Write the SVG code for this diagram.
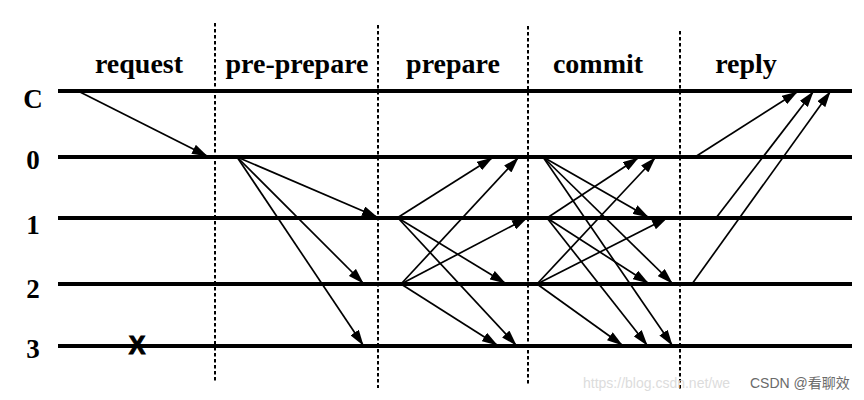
<svg xmlns="http://www.w3.org/2000/svg" width="864" height="400" viewBox="0 0 864 400">
<style>
.bg{fill:#fff}
.phase{font-family:"Liberation Serif","Times New Roman",serif;font-weight:bold;font-size:28px;fill:#000;text-anchor:middle}
.row{font-family:"Liberation Serif","Times New Roman",serif;font-weight:bold;font-size:27px;fill:#000;text-anchor:middle}
.tl{stroke:#000;stroke-width:4;fill:none}
.div{stroke:#000;stroke-width:2;stroke-dasharray:3.5 2.5;fill:none}
.msg{stroke:#000;stroke-width:1.7;fill:none;marker-end:url(#ah)}
.wm1{font-family:"Liberation Sans",Arial,sans-serif;font-size:14px;fill:#dcdcdc}
.wm2{font-family:"Liberation Sans","Noto Sans CJK SC",sans-serif;font-size:14px;fill:#6a6a6a}
</style>
<defs>
<marker id="ah" markerUnits="userSpaceOnUse" markerWidth="16" markerHeight="10" refX="15" refY="5" orient="auto">
<path d="M0,0 L16,5 L0,10 z" fill="#000"/>
</marker>
</defs>
<rect class="bg" x="0" y="0" width="864" height="400"/>
<g id="dividers">
<line class="div" x1="215" y1="23" x2="215" y2="383"/>
<line class="div" x1="378" y1="25" x2="378" y2="388"/>
<line class="div" x1="528" y1="26" x2="528" y2="385"/>
<line class="div" x1="680" y1="31" x2="680" y2="389"/>
</g>
<g id="phases">
<text class="phase" x="139" y="73">request</text>
<text class="phase" x="297" y="73">pre-prepare</text>
<text class="phase" x="453" y="73">prepare</text>
<text class="phase" x="598" y="73">commit</text>
<text class="phase" x="746" y="73">reply</text>
</g>
<g id="node-C"><line class="tl" x1="58" y1="91" x2="852" y2="91"/><text class="row" x="33" y="108">C</text></g>
<g id="node-0"><line class="tl" x1="58" y1="157" x2="852" y2="157"/><text class="row" x="33" y="169">0</text></g>
<g id="node-1"><line class="tl" x1="58" y1="218" x2="852" y2="218"/><text class="row" x="33" y="234">1</text></g>
<g id="node-2"><line class="tl" x1="58" y1="284" x2="852" y2="284"/><text class="row" x="33" y="298">2</text></g>
<g id="node-3"><line class="tl" x1="58" y1="346" x2="852" y2="346"/><text class="row" x="33" y="358">3</text>
<text x="137" y="354" font-family="Liberation Sans,Arial,sans-serif" font-weight="bold" font-size="25" stroke="#000" stroke-width="1" text-anchor="middle">X</text></g>
<g id="connectors">
<line class="msg" x1="78" y1="91" x2="207" y2="156"/>
<line class="msg" x1="237" y1="157" x2="377" y2="217"/>
<line class="msg" x1="237" y1="157" x2="363" y2="283"/>
<line class="msg" x1="237" y1="157" x2="363" y2="345"/>
<line class="msg" x1="397" y1="218" x2="492" y2="158"/>
<line class="msg" x1="398" y1="218" x2="505" y2="283"/>
<line class="msg" x1="398" y1="218" x2="516" y2="345"/>
<line class="msg" x1="401" y1="284" x2="518" y2="158"/>
<line class="msg" x1="401" y1="284" x2="527" y2="218"/>
<line class="msg" x1="401" y1="284" x2="497" y2="345"/>
<line class="msg" x1="543" y1="157" x2="648" y2="217"/>
<line class="msg" x1="543" y1="157" x2="672" y2="283"/>
<line class="msg" x1="543" y1="157" x2="672" y2="345"/>
<line class="msg" x1="547" y1="218" x2="638" y2="158"/>
<line class="msg" x1="547" y1="218" x2="648" y2="283"/>
<line class="msg" x1="547" y1="218" x2="647" y2="345"/>
<line class="msg" x1="537" y1="284" x2="655" y2="158"/>
<line class="msg" x1="537" y1="284" x2="667" y2="218"/>
<line class="msg" x1="537" y1="284" x2="622" y2="345"/>
<line class="msg" x1="695" y1="157" x2="797" y2="92"/>
<line class="msg" x1="716" y1="218" x2="813" y2="92"/>
<line class="msg" x1="692" y1="284" x2="830" y2="92"/>
</g>
<g id="watermark">
<text class="wm1" x="583" y="388">https://blog.csdn.net/we</text>
<text class="wm2" x="750" y="388">CSDN @看聊效</text>
</g>
</svg>
